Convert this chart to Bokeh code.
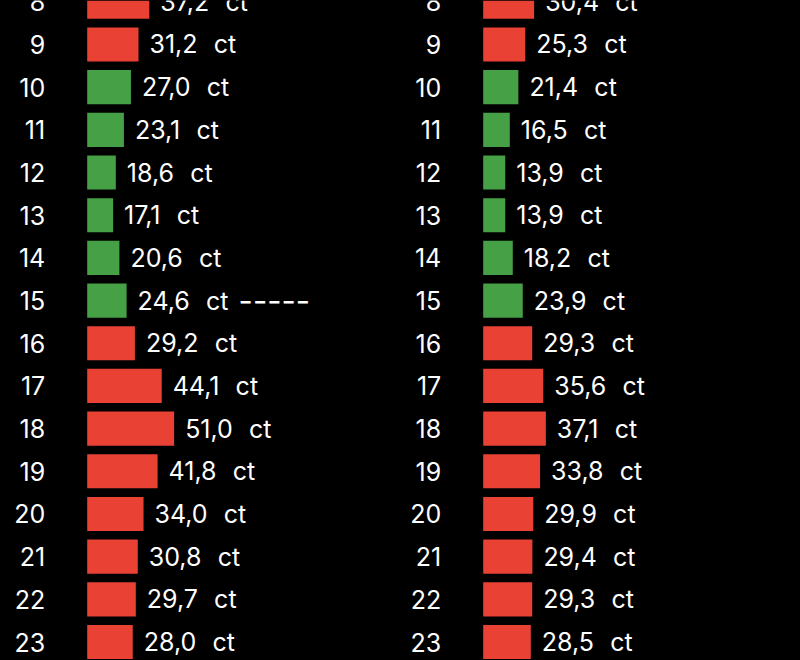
from bokeh.plotting import figure
from bokeh.models import ColumnDataSource, Range1d
from bokeh.layouts import row
from bokeh.embed import file_html
from bokeh.resources import INLINE
from bokeh.core.properties import value

# ---- data -------------------------------------------------------------
hours = list(range(8, 24))
today_ct = [37.2, 31.2, 27.0, 23.1, 18.6, 17.1, 20.6, 24.6,
            29.2, 44.1, 51.0, 41.8, 34.0, 30.8, 29.7, 28.0]
tomorrow_ct = [30.4, 25.3, 21.4, 16.5, 13.9, 13.9, 18.2, 23.9,
               29.3, 35.6, 37.1, 33.8, 29.9, 29.4, 29.3, 28.5]
cheap_today = [False, False, True, True, True, True, True, True,
               False, False, False, False, False, False, False, False]
cheap_tomorrow = [False, False, True, True, True, True, True, True,
                  False, False, False, False, False, False, False, False]
now_hour = 15
unit = "ct"

# ---- style ------------------------------------------------------------
RED = "#E94234"
GREEN = "#46A046"
BG = "#000000"
FONT = "Inter"
FSIZE = "25px"
H = 660
ROW_PX = 42.68      # pixels per hour row
TOP_PX = 1.3        # centre of the first row from the top edge


def panel(vals, cheap, width, bar_px, base, scale, marker_hour=None):
    labels = [f"{v:.1f}".replace(".", ",") + "\u2007" + unit for v in vals]
    src = ColumnDataSource(dict(
        hour=hours, val=vals, base=[base] * len(vals),
        color=[GREEN if c else RED for c in cheap],
        label=labels, hlabel=[str(h) for h in hours]))
    x0 = base - bar_px / scale
    p = figure(width=width, height=H, output_backend="svg",
               toolbar_location=None,
               x_range=Range1d(x0, x0 + width / scale),
               y_range=Range1d(hours[0] + (H - TOP_PX) / ROW_PX,
                               hours[0] - TOP_PX / ROW_PX),
               min_border=0, min_border_left=0, min_border_right=0,
               min_border_top=0, min_border_bottom=0)
    p.axis.visible = False
    p.grid.visible = False
    p.outline_line_color = None
    p.background_fill_color = BG
    p.border_fill_color = BG
    p.hbar(y="hour", left="base", right="val", height=0.8,
           fill_color="color", line_color=None, source=src)
    p.text(x="val", y="hour", text="label", source=src, x_offset=11,
           text_align="left", text_baseline="middle",
           text_color="#FFFFFF", text_font=value(FONT), text_font_size=FSIZE)
    p.text(x="base", y="hour", text="hlabel", source=src, x_offset=-42,
           text_align="right", text_baseline="middle",
           text_color="#FFFFFF", text_font=value(FONT), text_font_size=FSIZE)
    if marker_hour is not None:
        i = hours.index(marker_hour)
        msrc = ColumnDataSource(dict(hour=[marker_hour], val=[vals[i]],
                                     mark=["-----"]))
        p.text(x="val", y="hour", text="mark", source=msrc, x_offset=112,
               text_align="left", text_baseline="middle",
               text_color="#FFFFFF", text_font=value(FONT),
               text_font_size="31px")
    return p


left = panel(today_ct, cheap_today, 400, 86.7, 2.7, 1.8, marker_hour=now_hour)
right = panel(tomorrow_ct, cheap_tomorrow, 400, 82.7, 1.3, 1.75)
layout = row(left, right)

template = """{% block preamble %}<style>html, body { background: #000000; }</style>{% endblock %}"""
open("out.html", "w").write(file_html(layout, INLINE, template=template))
